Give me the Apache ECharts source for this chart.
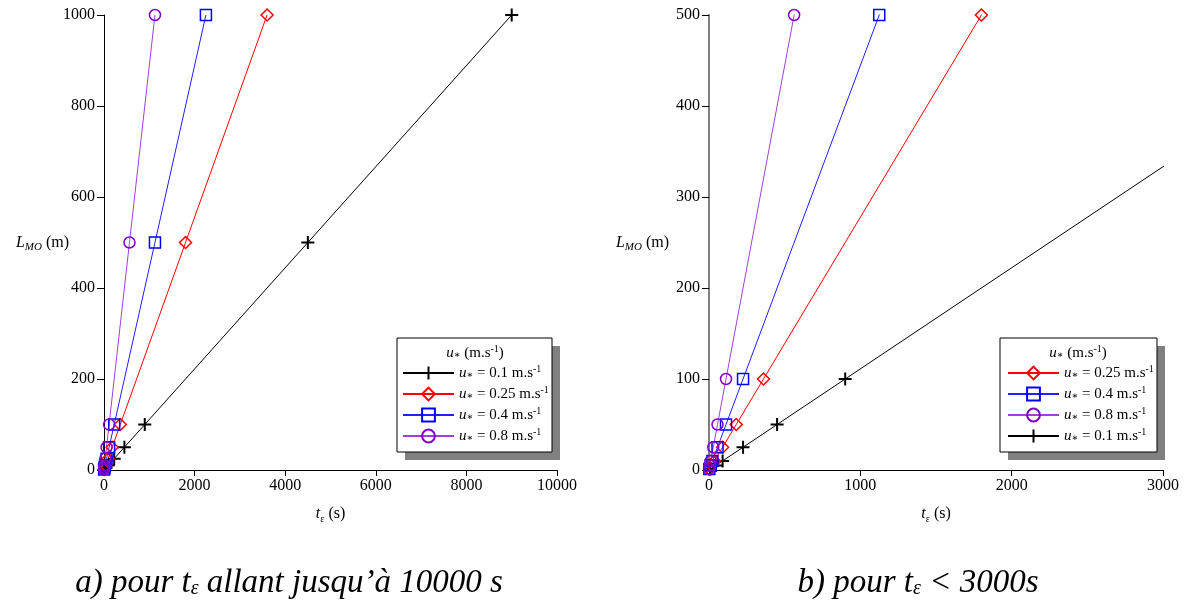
<!DOCTYPE html>
<html>
<head>
<meta charset="utf-8">
<script src="https://cdn.jsdelivr.net/npm/echarts@6/dist/echarts.min.js"></script>
<style>html,body{margin:0;padding:0;background:#fff}#c{width:1185px;height:606px}</style>
</head>
<body>
<div id="c"></div>
<script>
// ---- data ----
const L_values = [1, 5, 10, 25, 50, 100, 500, 1000];            // L_MO (m)
const t_u01  = [9, 45, 90, 225, 450, 900, 4500, 9000];           // u* = 0.1
const t_u025 = [3.6, 18, 36, 90, 180, 360, 1800, 3600];          // u* = 0.25
const t_u04  = [2.25, 11.25, 22.5, 56.25, 112.5, 225, 1125, 2250]; // u* = 0.4
const t_u08  = [1.125, 5.625, 11.25, 28.125, 56.25, 112.5, 562.5, 1125]; // u* = 0.8
const seriesNames = ['0.1', '0.25', '0.4', '0.8'];
const legendOrderA = ['0.1', '0.25', '0.4', '0.8'];
const legendOrderB = ['0.25', '0.4', '0.8', '0.1'];
const xTicksA = [0, 2000, 4000, 6000, 8000, 10000];
const yTicksA = [0, 200, 400, 600, 800, 1000];
const xTicksB = [0, 1000, 2000, 3000];
const yTicksB = [0, 100, 200, 300, 400, 500];

const FONT = '"Liberation Serif","DejaVu Serif",serif';
const styles = {
  '0.1':  {line: '#000000', mark: '#000000', symbol: 'path://M0,-10L0,10M-10,0L10,0', size: 13, bw: 2, t: t_u01},
  '0.25': {line: '#ff0000', mark: '#ff0000', symbol: 'diamond', size: 12, bw: 1.5, t: t_u025},
  '0.4':  {line: '#2020ff', mark: '#0000ff', symbol: 'rect', size: 11, bw: 1.5, t: t_u04},
  '0.8':  {line: '#a040d8', mark: '#8000c8', symbol: 'circle', size: 11, bw: 1.5, t: t_u08}
};

function makeSeries(idx) {
  return seriesNames.map(n => {
    const s = styles[n];
    return {
      name: n, type: 'line', xAxisIndex: idx, yAxisIndex: idx,
      data: L_values.map((L, i) => [s.t[i], L]),
      symbol: s.symbol, symbolSize: s.size, showAllSymbol: true,
      lineStyle: {color: s.line, width: 1},
      itemStyle: {color: 'rgba(255,255,255,0)', borderColor: s.mark, borderWidth: s.bw},
      emphasis: {disabled: true}, animation: false, clip: true, z: 3
    };
  });
}

const labelRich = {
  u: {fontFamily: FONT, fontStyle: 'italic', fontSize: 15, lineHeight: 18, color: '#000'},
  a: {fontFamily: FONT, fontSize: 10, lineHeight: 18, verticalAlign: 'bottom', color: '#000', padding: [0, 0, 2, 0]},
  sup: {fontFamily: FONT, fontSize: 10, lineHeight: 10, verticalAlign: 'top', color: '#000'}
};

function legendFmt(n) {
  return '{u|u}{a|∗} = ' + n + ' m.s{sup|-1}';
}

function makeLegend(order, left, top) {
  return {
    data: order, orient: 'vertical', left: left, top: top,
    itemWidth: 51, itemHeight: 16, itemGap: 3, selectedMode: false,
    textStyle: {fontFamily: FONT, fontSize: 15, lineHeight: 18, color: '#000', rich: labelRich},
    formatter: legendFmt, z: 20, padding: 0
  };
}

const plain = v => String(v);

function xAxis(idx, max, interval, gridIdx, lineColor) {
  return {
    type: 'value', gridIndex: gridIdx, min: 0, max: max, interval: interval,
    axisLine: {show: true, onZero: false, lineStyle: {color: lineColor, width: 1}},
    axisTick: {show: true, inside: false, length: 6, lineStyle: {color: lineColor}},
    axisLabel: {margin: 8, fontFamily: FONT, fontSize: 16, color: '#000', formatter: plain},
    splitLine: {show: false},
    name: '{i|t}{e|ε} (s)', nameLocation: 'middle', nameGap: 34,
    nameTextStyle: {fontFamily: FONT, fontSize: 16, color: '#000',
      rich: {i: {fontFamily: FONT, fontStyle: 'italic', fontSize: 16, lineHeight: 20, color: '#000'},
             e: {fontFamily: FONT, fontSize: 10, lineHeight: 20, verticalAlign: 'bottom', color: '#000'}}}
  };
}
function yAxis(max, interval, gridIdx, lineColor, lw) {
  return {
    type: 'value', gridIndex: gridIdx, min: 0, max: max, interval: interval,
    axisLine: {show: true, onZero: false, lineStyle: {color: lineColor, width: lw}},
    axisTick: {show: true, inside: false, length: 7, lineStyle: {color: '#000'}},
    axisLabel: {margin: 9, fontFamily: FONT, fontSize: 16, color: '#000', formatter: plain},
    splitLine: {show: false}
  };
}

function nameText(x, y) {
  return {
    type: 'text', x: x, y: y, z: 30,
    style: {
      text: '{i|L}{s|MO} (m)', align: 'right', verticalAlign: 'middle',
      font: '16px ' + FONT, fill: '#000',
      rich: {i: {fontFamily: FONT, fontStyle: 'italic', fontSize: 16, lineHeight: 20},
             s: {fontFamily: FONT, fontStyle: 'italic', fontSize: 11, lineHeight: 20, verticalAlign: 'bottom'}}
    }
  };
}
function legendBox(x, y, w, h, cx) {
  return [
    {type: 'rect', z: 5, shape: {x: x + 8, y: y + 8, width: w, height: h}, style: {fill: '#808080'}},
    {type: 'rect', z: 6, shape: {x: x, y: y, width: w, height: h}, style: {fill: '#fff', stroke: '#000', lineWidth: 1}},
    {type: 'text', z: 30, x: cx, y: y + 15,
      style: {text: '{u|u}{a|∗} (m.s{sup|-1})', align: 'center', verticalAlign: 'middle', font: '15px ' + FONT, fill: '#000',
        rich: labelRich}}
  ];
}
function caption(x, y, txt1, txt2) {
  return {
    type: 'text', x: x, y: y, z: 30,
    style: {
      text: '{n|' + txt1 + '}{s|ε}{n|' + txt2 + '}', align: 'center', verticalAlign: 'middle', fill: '#000',
      font: 'italic 33px ' + FONT,
      rich: {n: {fontFamily: FONT, fontStyle: 'italic', fontSize: 33, lineHeight: 38},
             s: {fontFamily: FONT, fontStyle: 'italic', fontSize: 20, lineHeight: 38, verticalAlign: 'bottom', padding: [0, 0, 3, 0]}}
    }
  };
}

const chart = echarts.init(document.getElementById('c'), null, {renderer: 'canvas'});
chart.setOption({
  animation: false,
  backgroundColor: '#fff',
  grid: [
    {left: 104, right: 628, top: 15, bottom: 136},
    {left: 709, right: 22, top: 15, bottom: 136}
  ],
  xAxis: [
    xAxis(0, xTicksA[xTicksA.length - 1], xTicksA[1] - xTicksA[0], 0, '#000'),
    xAxis(1, xTicksB[xTicksB.length - 1], xTicksB[1] - xTicksB[0], 1, '#000')
  ],
  yAxis: [
    yAxis(yTicksA[yTicksA.length - 1], yTicksA[1] - yTicksA[0], 0, '#000', 1),
    yAxis(yTicksB[yTicksB.length - 1], yTicksB[1] - yTicksB[0], 1, '#808080', 2)
  ],
  legend: [
    makeLegend(legendOrderA, 402, 364),
    makeLegend(legendOrderB, 1007, 364)
  ],
  graphic: [
    nameText(69, 243), nameText(669, 243),
    ...legendBox(397, 338, 155, 114, 475),
    ...legendBox(1000, 338, 157, 114, 1078),
    caption(289, 583, 'a) pour t', ' allant jusqu’à 10000 s'),
    caption(918, 583, 'b) pour t', ' < 3000s')
  ],
  series: [...makeSeries(0), ...makeSeries(1)]
});
</script>
</body>
</html>
